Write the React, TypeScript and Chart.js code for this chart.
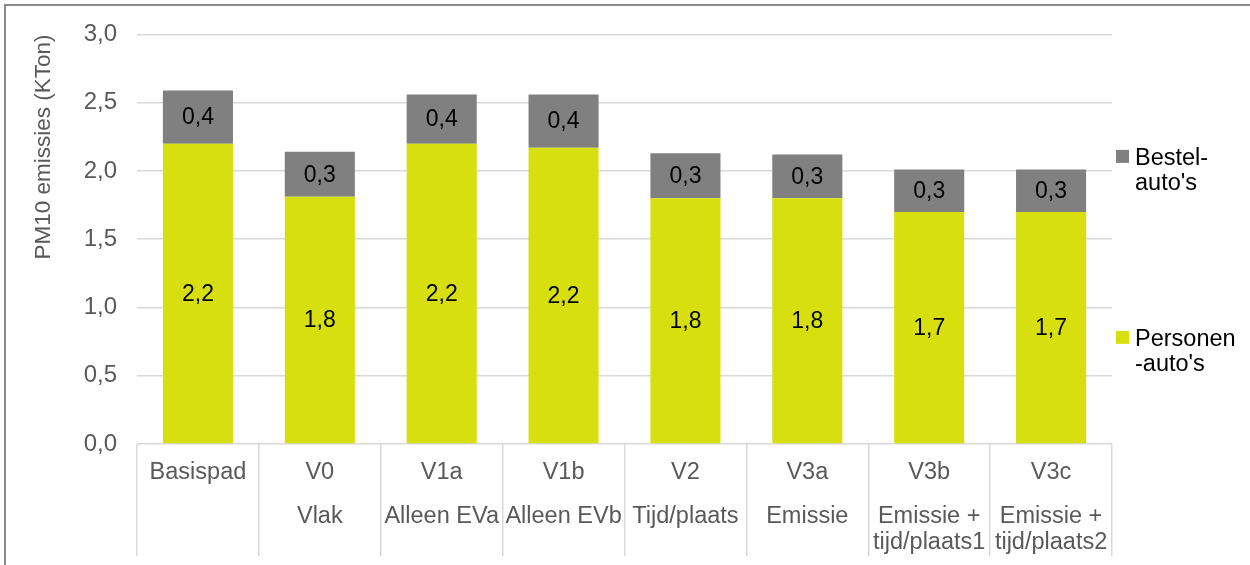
import React, { useEffect, useRef } from "react";
import { Chart, registerables } from "chart.js";

Chart.register(...registerables);

const categoryCodes = ["Basispad", "V0", "V1a", "V1b", "V2", "V3a", "V3b", "V3c"];
const categoryNames: string[][] = [
  [],
  ["Vlak"],
  ["Alleen EVa"],
  ["Alleen EVb"],
  ["Tijd/plaats"],
  ["Emissie"],
  ["Emissie +", "tijd/plaats1"],
  ["Emissie +", "tijd/plaats2"],
];
const personenValues = [2.2, 1.81, 2.2, 2.17, 1.8, 1.8, 1.7, 1.7];
const bestelValues = [0.39, 0.33, 0.36, 0.39, 0.33, 0.32, 0.31, 0.31];
const yTicks = [0, 0.5, 1, 1.5, 2, 2.5, 3];
const legendLines: { dataset: number; lines: string[] }[] = [
  { dataset: 1, lines: ["Bestel-", "auto's"] },
  { dataset: 0, lines: ["Personen", "-auto's"] },
];

const FONT = "'Liberation Sans', Arial, sans-serif";
const fmt = (v: number) => v.toFixed(1).replace(".", ",");

const labelsPlugin = {
  id: "customLabels",
  afterDatasetsDraw(chart: any) {
    const ctx = chart.ctx;
    ctx.save();
    ctx.font = `23px ${FONT}`;
    ctx.fillStyle = "#000000";
    ctx.textAlign = "center";
    ctx.textBaseline = "middle";
    chart.data.datasets.forEach((ds: any, di: number) => {
      const meta = chart.getDatasetMeta(di);
      meta.data.forEach((el: any, i: number) => {
        const v = ds.data[i];
        ctx.fillText(fmt(v), el.x, (el.y + el.base) / 2 + 1);
      });
    });
    ctx.restore();
  },
  afterDraw(chart: any) {
    const ctx = chart.ctx;
    const xs = chart.scales.x;
    const area = chart.chartArea;
    ctx.save();
    ctx.font = `23.5px ${FONT}`;
    ctx.fillStyle = "#595959";
    ctx.textAlign = "center";
    ctx.textBaseline = "middle";
    categoryCodes.forEach((code, i) => {
      const x = xs.getPixelForValue(i);
      ctx.fillText(code, x, area.bottom + 29);
      categoryNames[i].forEach((line, j) => {
        ctx.fillText(line, x, area.bottom + 73 + j * 26);
      });
    });
    // legend
    const legendY = [area.top + 122, area.top + 303];
    legendLines.forEach((item, k) => {
      const ds = chart.data.datasets[item.dataset];
      const y0 = legendY[k];
      ctx.fillStyle = ds.backgroundColor;
      ctx.fillRect(area.right + 4, y0 - 6.5, 13, 13);
      ctx.fillStyle = "#000000";
      ctx.font = `23.5px ${FONT}`;
      ctx.textAlign = "left";
      item.lines.forEach((line, j) => {
        ctx.fillText(line, area.right + 23, y0 + 2 + j * 25.5);
      });
    });
    ctx.restore();
  },
};

export default function App() {
  const ref = useRef<HTMLCanvasElement | null>(null);
  useEffect(() => {
    if (!ref.current) return;
    const chart = new Chart(ref.current, {
      type: "bar",
      data: {
        labels: categoryCodes,
        datasets: [
          {
            label: "Personen-auto's",
            data: personenValues,
            backgroundColor: "#D7E00E",
            categoryPercentage: 1,
            barPercentage: 0.575,
          },
          {
            label: "Bestel-auto's",
            data: bestelValues,
            backgroundColor: "#808080",
            categoryPercentage: 1,
            barPercentage: 0.575,
          },
        ],
      },
      options: {
        animation: false,
        responsive: false,
        layout: { padding: { left: 0, right: 138, top: 34, bottom: 9 } },
        plugins: {
          legend: { display: false },
          tooltip: { enabled: false },
          title: { display: false },
        },
        scales: {
          x: {
            stacked: true,
            offset: true,
            ticks: { display: false },
            border: { display: false },
            grid: {
              offset: true,
              drawOnChartArea: false,
              drawTicks: true,
              tickLength: 112,
              color: "#D9D9D9",
              lineWidth: 1.5,
            },
          },
          y: {
            stacked: true,
            min: 0,
            max: 3,
            afterFit: (scale: any) => {
              scale.width = 137;
            },
            afterBuildTicks: (scale: any) => {
              scale.ticks = yTicks.map((v) => ({ value: v }));
            },
            ticks: {
              padding: 20,
              color: "#595959",
              font: { family: FONT, size: 24 },
              callback: (v: any) => fmt(Number(v)),
            },
            border: { display: false },
            grid: {
              color: "#D9D9D9",
              lineWidth: 1.5,
              drawTicks: false,
            },
            title: {
              display: true,
              text: "PM10 emissies (KTon)",
              align: "end",
              color: "#595959",
              font: { family: FONT, size: 22.5 },
              padding: { top: 30, bottom: 0 },
            },
          },
        },
      },
      plugins: [labelsPlugin],
    });
    return () => chart.destroy();
  }, []);

  return (
    <div style={{ position: "absolute", left: 0, top: 0, width: 1250, height: 565, background: "#fff", overflow: "hidden" }}>
      <div
        style={{
          position: "absolute",
          left: 4,
          top: 4,
          right: -10,
          bottom: -10,
          borderTop: "2px solid #8A8A8A",
          borderLeft: "2px solid #8A8A8A",
        }}
      />
      <canvas ref={ref} width={1250} height={565} style={{ position: "absolute", left: 0, top: 0 }} />
    </div>
  );
}
